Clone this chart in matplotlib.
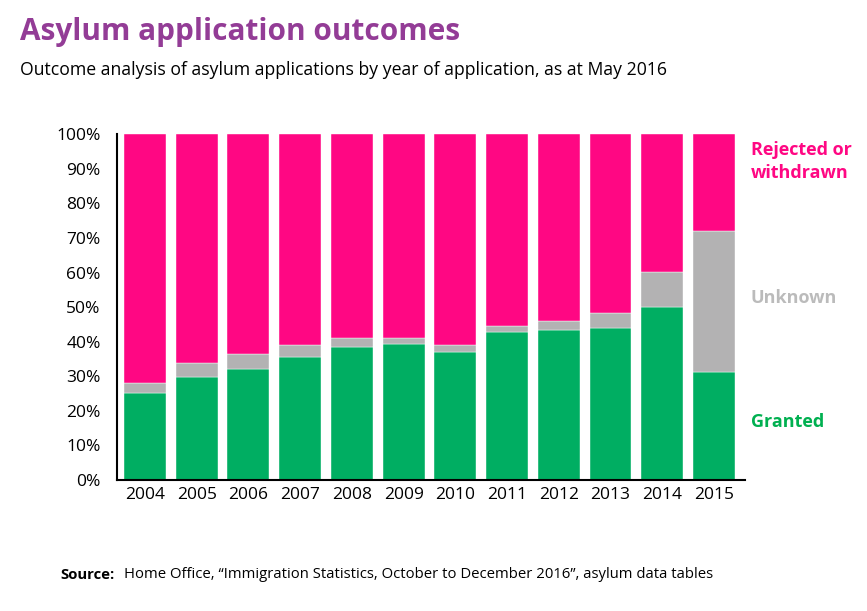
import numpy as np
import matplotlib
matplotlib.use('Agg')
import matplotlib.pyplot as plt

plt.rcParams['font.family'] = ['Open Sans', 'DejaVu Sans']

# data (% of applications)
years = ['2004', '2005', '2006', '2007', '2008', '2009',
         '2010', '2011', '2012', '2013', '2014', '2015']
granted = [25.3, 29.8, 32.1, 35.7, 38.6, 39.2, 37.1, 42.9, 43.5, 44.1, 50.0, 31.2]
unknown = [2.8, 4.0, 4.3, 3.3, 2.6, 2.0, 1.9, 1.7, 2.4, 4.2, 10.2, 40.7]
rejected = [100 - g - u for g, u in zip(granted, unknown)]

pink = '#FF0783'
green = '#00AE62'
grey = '#B3B2B3'
purple = '#933C96'

fig = plt.figure(figsize=(8.67, 6.11), dpi=100)
ax = fig.add_axes([117.3/867, 1 - 480/611, (745 - 117.3)/867, (480 - 134.3)/611])

x = np.arange(len(years))
w = 0.81
ax.bar(x, granted, w, color=green, edgecolor='white', linewidth=0.3)
ax.bar(x, unknown, w, bottom=granted, color=grey, edgecolor='white', linewidth=0.3)
bot2 = [g + u for g, u in zip(granted, unknown)]
ax.bar(x, rejected, w, bottom=bot2, color=pink, edgecolor='white', linewidth=0.3)

ax.set_xlim(-0.535, 11.6)
ax.set_ylim(0, 100)
ax.set_xticks(x)
ax.set_xticklabels(years, fontsize=12.5)
ax.set_yticks(range(0, 101, 10))
ax.set_yticklabels([str(v) + '%' for v in range(0, 101, 10)], fontsize=12.5)
ax.tick_params(axis='x', length=0, pad=5)
ax.tick_params(axis='y', length=0, pad=12)
for s in ['top', 'right']:
    ax.spines[s].set_visible(False)
ax.spines['left'].set_linewidth(1.5)
ax.spines['bottom'].set_linewidth(1.5)

# series labels on the right
fig.text(751/867, 1 - 150/611, 'Rejected or', color=pink, fontsize=13,
         fontweight='bold', va='center', ha='left')
fig.text(751/867, 1 - 173/611, 'withdrawn', color=pink, fontsize=13,
         fontweight='bold', va='center', ha='left')
fig.text(751/867, 1 - 298/611, 'Unknown', color='#BBBBBB', fontsize=13,
         fontweight='bold', va='center', ha='left')
fig.text(751/867, 1 - 422/611, 'Granted', color='#00B050', fontsize=13,
         fontweight='bold', va='center', ha='left')

fig.text(20/867, 1 - 32/611, 'Asylum application outcomes', color=purple,
         fontsize=21.4, fontweight='bold', va='center', ha='left')
fig.text(20/867, 1 - 70/611,
         'Outcome analysis of asylum applications by year of application, as at May 2016',
         fontsize=12.7, va='center', ha='left')
fig.text(60/867, 1 - 575/611, 'Source:', fontsize=10.7, fontweight='bold',
         va='center', ha='left')
fig.text(124/867, 1 - 575/611,
         'Home Office, \u201cImmigration Statistics, October to December 2016\u201d, asylum data tables',
         fontsize=10.7, va='center', ha='left')

fig.savefig('out.png', dpi=100)
